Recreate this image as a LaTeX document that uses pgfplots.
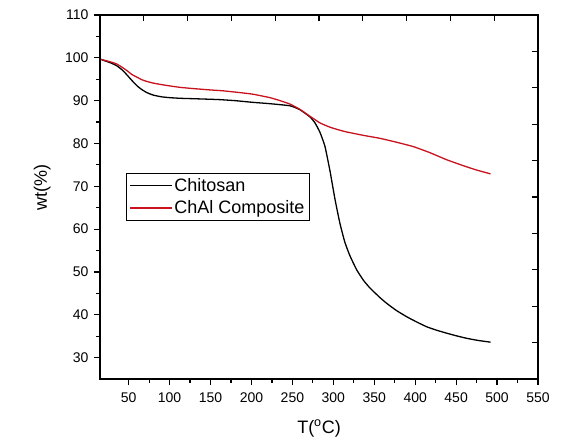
\documentclass[border=0pt]{standalone}
\usepackage{fontspec}
\setmainfont{Liberation Sans}
\usepackage{pgfplots}
\pgfplotsset{compat=1.18}
\definecolor{chalred}{RGB}{200,18,30}

\pgfplotstableread{
T wt
15 99.7
27 98.9
35 98.2
42 97.2
48 96.0
54 94.7
60 93.5
66 92.6
72 91.9
80 91.3
90 90.9
100 90.7
113 90.55
130 90.45
160 90.25
180 90.0
202 89.6
222 89.3
247 88.8
259 87.9
271.5 86.2
277.6 84.8
283.7 82.6
289.8 79.3
296 73.5
302 67.0
308 61.4
314 57.0
320 53.9
328.5 50.5
337 48.0
345 46.2
357 44.0
365 42.7
377 41.0
390 39.5
402 38.3
414 37.2
426 36.4
438.5 35.7
450 35.1
463 34.5
477 34.0
492 33.6
}\chitosan

\pgfplotstableread{
T wt
15 99.7
27 99.1
35 98.6
42 97.8
48 97.0
54 96.1
60 95.5
66 94.9
72 94.5
80 94.1
90 93.75
100 93.45
113 93.1
130 92.8
150 92.5
165 92.3
185 91.9
202 91.5
222.6 90.7
235 90.0
247 89.2
259 88.0
271.5 86.35
283.7 84.8
296 83.8
308 83.1
316 82.7
336.6 81.9
357 81.2
377 80.3
398 79.25
418 77.85
438.5 76.2
459 74.8
475 73.8
492 72.9
}\chal

\begin{document}
\begin{tikzpicture}
\useasboundingbox (-100pt,-60pt) rectangle (461pt,379pt);
\begin{axis}[
    scale only axis,
    width=438pt, height=364pt,
    xmin=15, xmax=550,
    ymin=25, ymax=110,
    xtick={50,100,...,550},
    ytick={30,40,...,110},
    minor x tick num=1,
    minor y tick num=1,
    xtick pos=left, ytick pos=left,
    tick align=outside,
    major tick length=6pt,
    minor tick length=3.5pt,
    every tick/.style={black, line width=1.2pt},
    axis line style={line width=1.4pt},
    tick label style={font=\fontsize{14}{16}\selectfont},
    xticklabel style={yshift=-4pt},
    yticklabel style={xshift=-2pt},
    /pgf/number format/assume math mode=true,
    xlabel={T(\textsuperscript{o}C)},
    ylabel={wt(\%)},
    label style={font=\fontsize{18}{20}\selectfont},
    xlabel style={at={(axis description cs:0.5,0)}, anchor=base, yshift=-54pt},
    ylabel style={at={(axis description cs:0,0.526)}, anchor=base, yshift=53pt},
    legend style={at={(0.059,0.566)}, anchor=north west, draw=black, line width=0.6pt,
        font=\fontsize{18}{22}\selectfont, inner xsep=3pt, inner ysep=3pt,
        row sep=4pt},
    legend cell align=left,
    legend image code/.code={\draw[#1, line width=1.3pt] (0pt,0pt) -- (42pt,0pt);},
]
\addplot[black, line width=1.3pt, smooth, tension=0.3] table[x=T, y=wt] {\chitosan};
\addlegendentry{Chitosan}
\addplot[chalred, line width=1.3pt, smooth, tension=0.3] table[x=T, y=wt] {\chal};
\addlegendentry{ChAl Composite}
\end{axis}
\begin{axis}[
    scale only axis,
    width=438pt, height=364pt,
    xmin=0, xmax=1, ymin=0, ymax=1,
    xtick={0.1,0.2,0.3,0.4,0.5,0.6,0.7,0.8,0.9},
    ytick={0.1,0.2,0.3,0.4,0.5,0.6,0.7,0.8,0.9},
    xticklabels={}, yticklabels={},
    xtick pos=right, ytick pos=right,
    tick align=inside,
    major tick length=6pt,
    every tick/.style={black, line width=1.2pt},
    axis line style={line width=1.4pt},
]
\end{axis}
\end{tikzpicture}
\end{document}
